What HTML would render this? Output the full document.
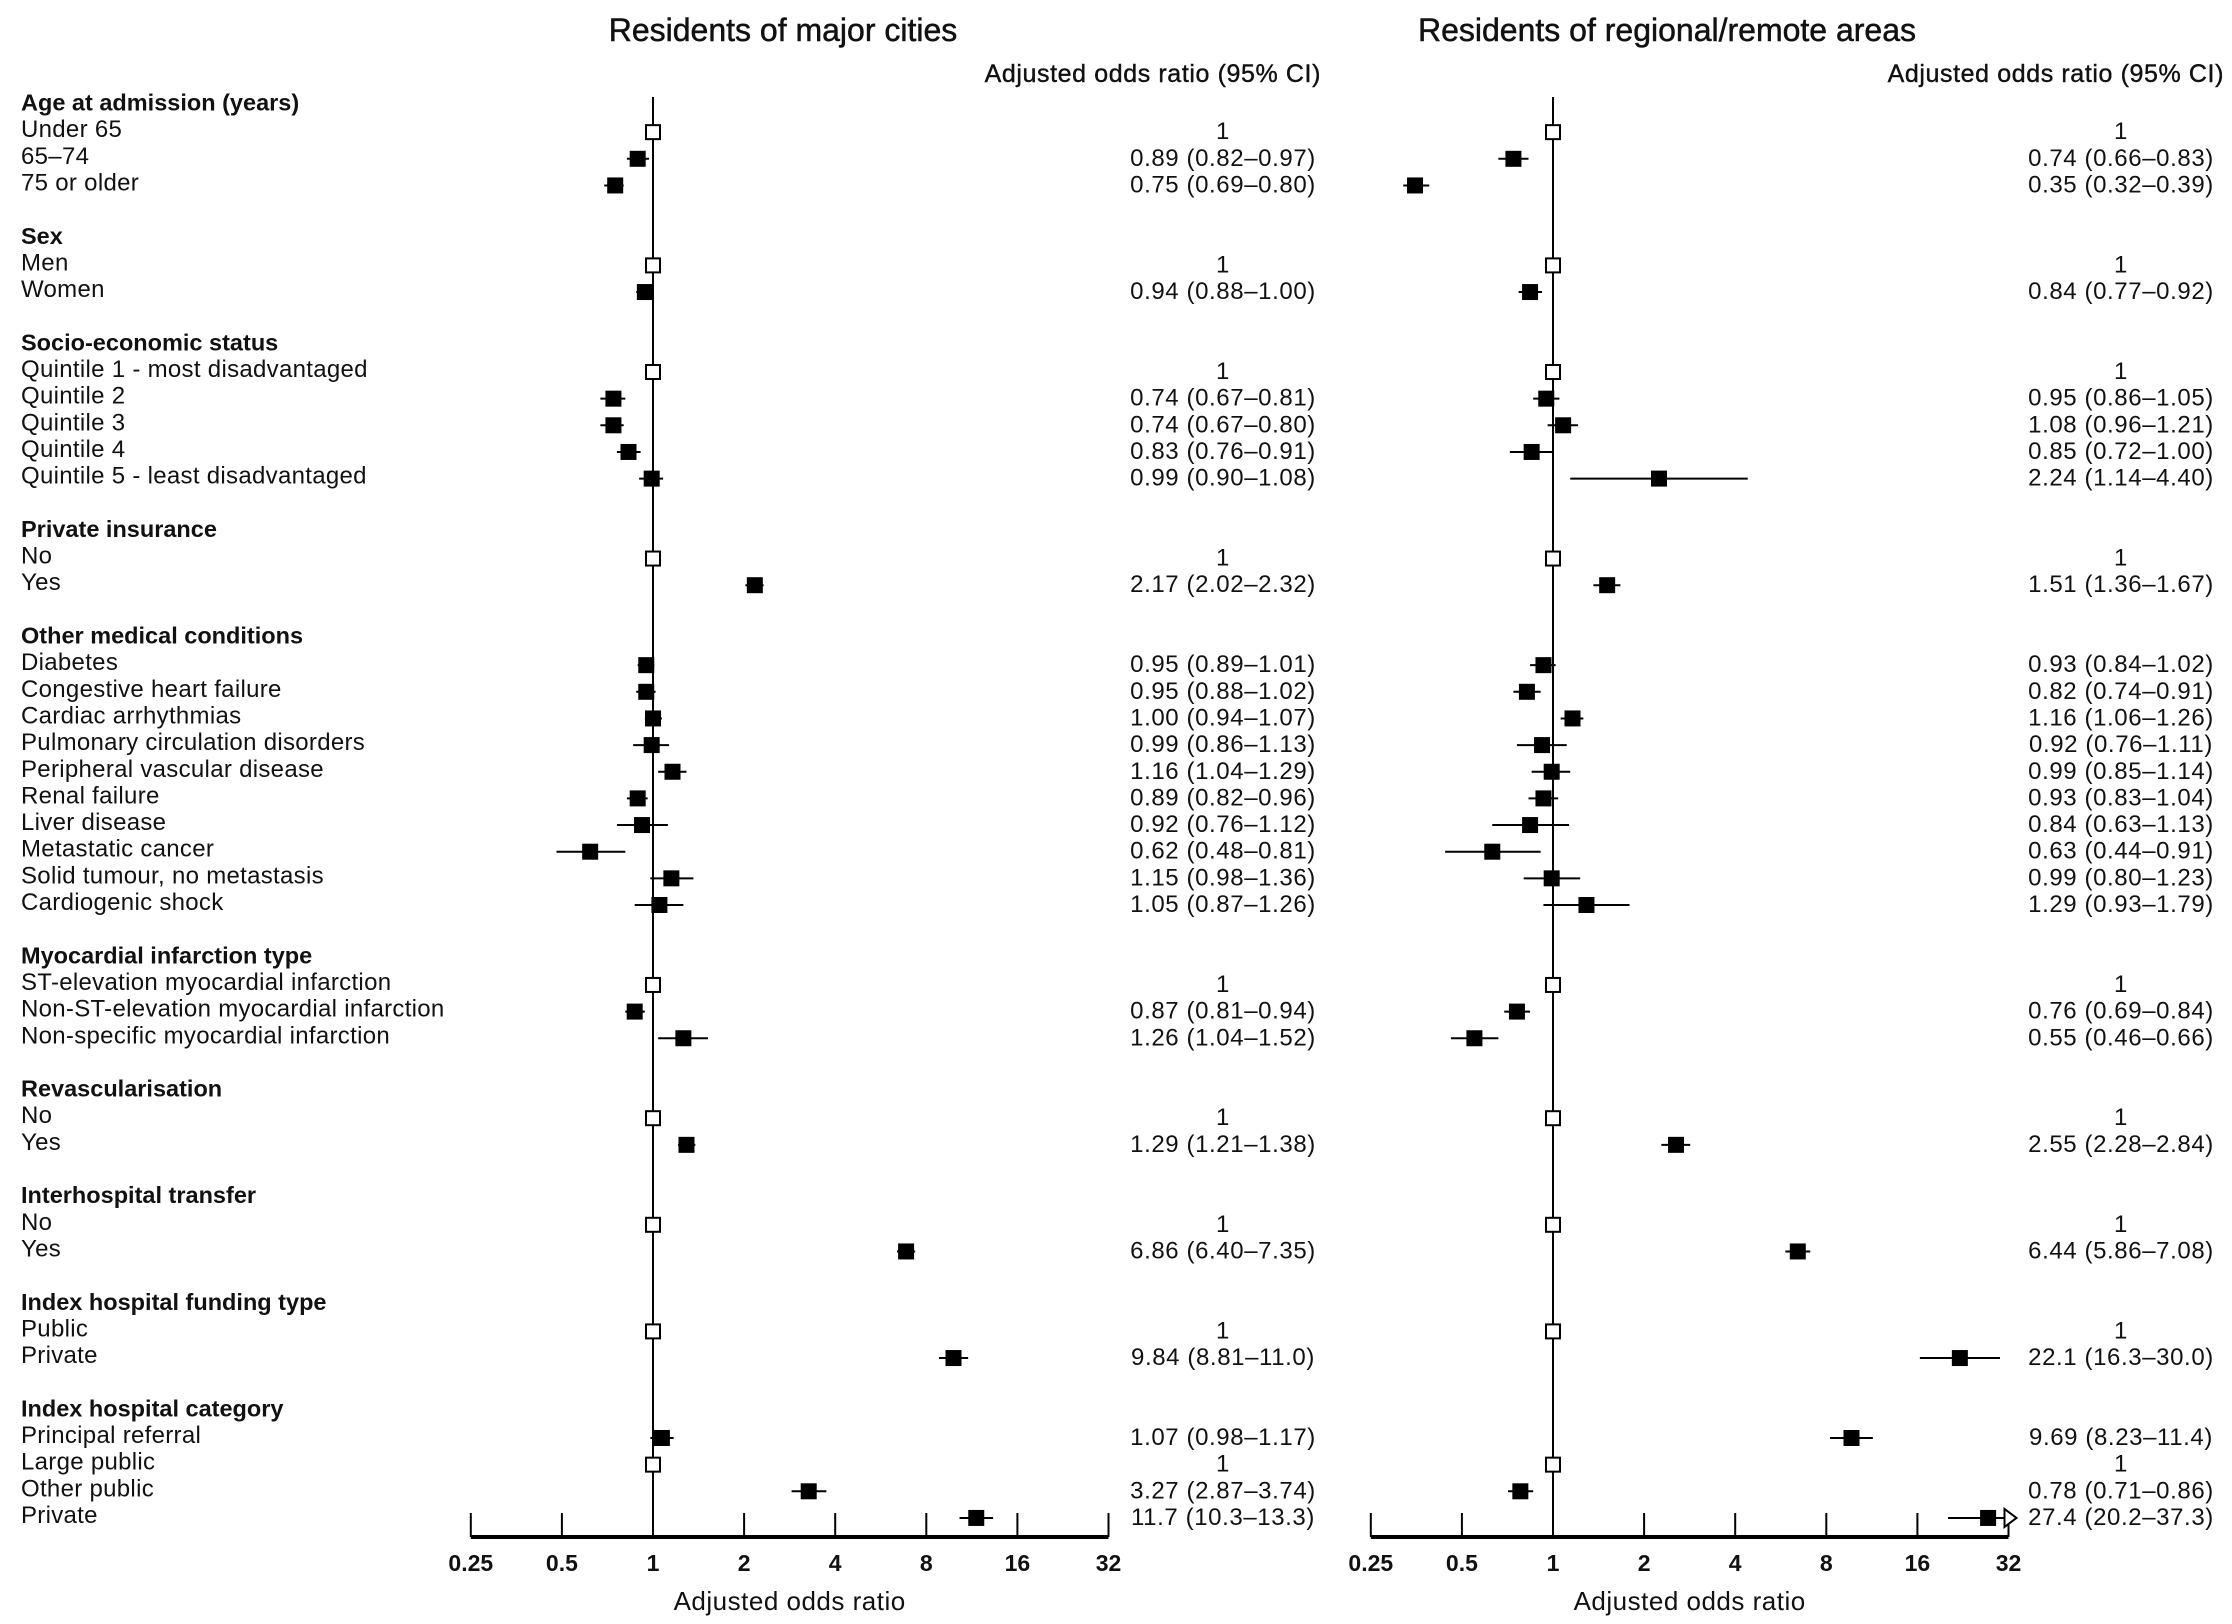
<!DOCTYPE html>
<html><head><meta charset="utf-8">
<style>
html,body{margin:0;padding:0;background:#fff;}
svg text{font-family:"Liberation Sans",sans-serif;fill:#111;}
</style></head>
<body>
<svg id="s" width="2232" height="1619" viewBox="0 0 2232 1619" xmlns="http://www.w3.org/2000/svg">
<text x="783" y="41" font-size="32" text-anchor="middle" stroke="#111" stroke-width="0.5">Residents of major cities</text>
<text x="1667" y="41" font-size="32" text-anchor="middle" stroke="#111" stroke-width="0.5">Residents of regional/remote areas</text>
<text x="1321" y="82" font-size="25" text-anchor="end" letter-spacing="0.6" stroke="#111" stroke-width="0.4">Adjusted odds ratio (95% CI)</text>
<text x="2224" y="82" font-size="25" text-anchor="end" letter-spacing="0.6" stroke="#111" stroke-width="0.4">Adjusted odds ratio (95% CI)</text>
</svg>
<script>
var S=document.getElementById('s'),NS='http://www.w3.org/2000/svg';
function el(t,a,txt){var e=document.createElementNS(NS,t);for(var k in a)e.setAttribute(k,a[k]);if(txt!=null)e.textContent=txt;S.appendChild(e);return e;}
var y0=102.5,st=26.65,step=91.1;
var P=[{one:653,cx:1223},{one:1553,cx:2121}];
function X(p,v){return P[p].one+Math.log2(v)*step;}
var R=[
[0,"Age at admission (years)",1],
[1,"Under 65",0,null,"1",null,"1"],
[2,"65–74",0,[0.89,0.82,0.97],"0.89 (0.82–0.97)",[0.74,0.66,0.83],"0.74 (0.66–0.83)"],
[3,"75 or older",0,[0.75,0.69,0.80],"0.75 (0.69–0.80)",[0.35,0.32,0.39],"0.35 (0.32–0.39)"],
[5,"Sex",1],
[6,"Men",0,null,"1",null,"1"],
[7,"Women",0,[0.94,0.88,1.00],"0.94 (0.88–1.00)",[0.84,0.77,0.92],"0.84 (0.77–0.92)"],
[9,"Socio-economic status",1],
[10,"Quintile 1 - most disadvantaged",0,null,"1",null,"1"],
[11,"Quintile 2",0,[0.74,0.67,0.81],"0.74 (0.67–0.81)",[0.95,0.86,1.05],"0.95 (0.86–1.05)"],
[12,"Quintile 3",0,[0.74,0.67,0.80],"0.74 (0.67–0.80)",[1.08,0.96,1.21],"1.08 (0.96–1.21)"],
[13,"Quintile 4",0,[0.83,0.76,0.91],"0.83 (0.76–0.91)",[0.85,0.72,1.00],"0.85 (0.72–1.00)"],
[14,"Quintile 5 - least disadvantaged",0,[0.99,0.90,1.08],"0.99 (0.90–1.08)",[2.24,1.14,4.40],"2.24 (1.14–4.40)"],
[16,"Private insurance",1],
[17,"No",0,null,"1",null,"1"],
[18,"Yes",0,[2.17,2.02,2.32],"2.17 (2.02–2.32)",[1.51,1.36,1.67],"1.51 (1.36–1.67)"],
[20,"Other medical conditions",1],
[21,"Diabetes",0,[0.95,0.89,1.01],"0.95 (0.89–1.01)",[0.93,0.84,1.02],"0.93 (0.84–1.02)"],
[22,"Congestive heart failure",0,[0.95,0.88,1.02],"0.95 (0.88–1.02)",[0.82,0.74,0.91],"0.82 (0.74–0.91)"],
[23,"Cardiac arrhythmias",0,[1.00,0.94,1.07],"1.00 (0.94–1.07)",[1.16,1.06,1.26],"1.16 (1.06–1.26)"],
[24,"Pulmonary circulation disorders",0,[0.99,0.86,1.13],"0.99 (0.86–1.13)",[0.92,0.76,1.11],"0.92 (0.76–1.11)"],
[25,"Peripheral vascular disease",0,[1.16,1.04,1.29],"1.16 (1.04–1.29)",[0.99,0.85,1.14],"0.99 (0.85–1.14)"],
[26,"Renal failure",0,[0.89,0.82,0.96],"0.89 (0.82–0.96)",[0.93,0.83,1.04],"0.93 (0.83–1.04)"],
[27,"Liver disease",0,[0.92,0.76,1.12],"0.92 (0.76–1.12)",[0.84,0.63,1.13],"0.84 (0.63–1.13)"],
[28,"Metastatic cancer",0,[0.62,0.48,0.81],"0.62 (0.48–0.81)",[0.63,0.44,0.91],"0.63 (0.44–0.91)"],
[29,"Solid tumour, no metastasis",0,[1.15,0.98,1.36],"1.15 (0.98–1.36)",[0.99,0.80,1.23],"0.99 (0.80–1.23)"],
[30,"Cardiogenic shock",0,[1.05,0.87,1.26],"1.05 (0.87–1.26)",[1.29,0.93,1.79],"1.29 (0.93–1.79)"],
[32,"Myocardial infarction type",1],
[33,"ST-elevation myocardial infarction",0,null,"1",null,"1"],
[34,"Non-ST-elevation myocardial infarction",0,[0.87,0.81,0.94],"0.87 (0.81–0.94)",[0.76,0.69,0.84],"0.76 (0.69–0.84)"],
[35,"Non-specific myocardial infarction",0,[1.26,1.04,1.52],"1.26 (1.04–1.52)",[0.55,0.46,0.66],"0.55 (0.46–0.66)"],
[37,"Revascularisation",1],
[38,"No",0,null,"1",null,"1"],
[39,"Yes",0,[1.29,1.21,1.38],"1.29 (1.21–1.38)",[2.55,2.28,2.84],"2.55 (2.28–2.84)"],
[41,"Interhospital transfer",1],
[42,"No",0,null,"1",null,"1"],
[43,"Yes",0,[6.86,6.40,7.35],"6.86 (6.40–7.35)",[6.44,5.86,7.08],"6.44 (5.86–7.08)"],
[45,"Index hospital funding type",1],
[46,"Public",0,null,"1",null,"1"],
[47,"Private",0,[9.84,8.81,11.0],"9.84 (8.81–11.0)",[22.1,16.3,30.0],"22.1 (16.3–30.0)"],
[49,"Index hospital category",1],
[50,"Principal referral",0,[1.07,0.98,1.17],"1.07 (0.98–1.17)",[9.69,8.23,11.4],"9.69 (8.23–11.4)"],
[51,"Large public",0,null,"1",null,"1"],
[52,"Other public",0,[3.27,2.87,3.74],"3.27 (2.87–3.74)",[0.78,0.71,0.86],"0.78 (0.71–0.86)"],
[53,"Private",0,[11.7,10.3,13.3],"11.7 (10.3–13.3)",[27.4,20.2,37.3],"27.4 (20.2–37.3)"]
];
var axY=1537;
for(var p=0;p<2;p++){
  el('line',{x1:P[p].one,y1:97,x2:P[p].one,y2:axY,stroke:'#000','stroke-width':2});
  var l=X(p,0.25),r=X(p,32);
  el('line',{x1:l,y1:axY,x2:r,y2:axY,stroke:'#000','stroke-width':4});
  var tk=["0.25","0.5","1","2","4","8","16","32"];
  for(var i=0;i<8;i++){var tx=l+i*step;
    el('line',{x1:tx,y1:axY-24,x2:tx,y2:axY,stroke:'#000','stroke-width':2});
    el('text',{x:tx,y:axY+34,'font-size':23,'font-weight':'bold','text-anchor':'middle'},tk[i]);}
  el('text',{x:(l+r)/2,y:1610,'font-size':26,'text-anchor':'middle','letter-spacing':0.5},"Adjusted odds ratio");
}
R.forEach(function(r){
  var y=y0+r[0]*st;
  if(r[2]){el('text',{x:21,y:y+8,'font-size':23.5,'font-weight':'bold'},r[1]);return;}
  el('text',{x:21,y:y+8,'font-size':24,'letter-spacing':0.3},r[1]);
  for(var p=0;p<2;p++){
    var d=r[3+2*p],t=r[4+2*p],my=y+3;
    el('text',{x:P[p].cx,y:y+10,'font-size':24,'letter-spacing':0.6,'text-anchor':'middle'},t);
    if(!d){el('rect',{x:P[p].one-7,y:my-7,width:14,height:14,fill:'#fff',stroke:'#000','stroke-width':2});continue;}
    var hi=Math.min(d[2],32),x1=X(p,d[1]),x2=X(p,hi),xc=X(p,d[0]);
    el('line',{x1:x1,y1:my,x2:x2,y2:my,stroke:'#000','stroke-width':2});
    el('rect',{x:xc-8,y:my-8,width:16,height:16,fill:'#000'});
    if(d[2]>32){el('polygon',{points:(x2-4)+','+(my-9)+' '+(x2+8)+','+my+' '+(x2-4)+','+(my+9),fill:'#fff',stroke:'#000','stroke-width':2});}
  }
});
</script>
</body></html>
